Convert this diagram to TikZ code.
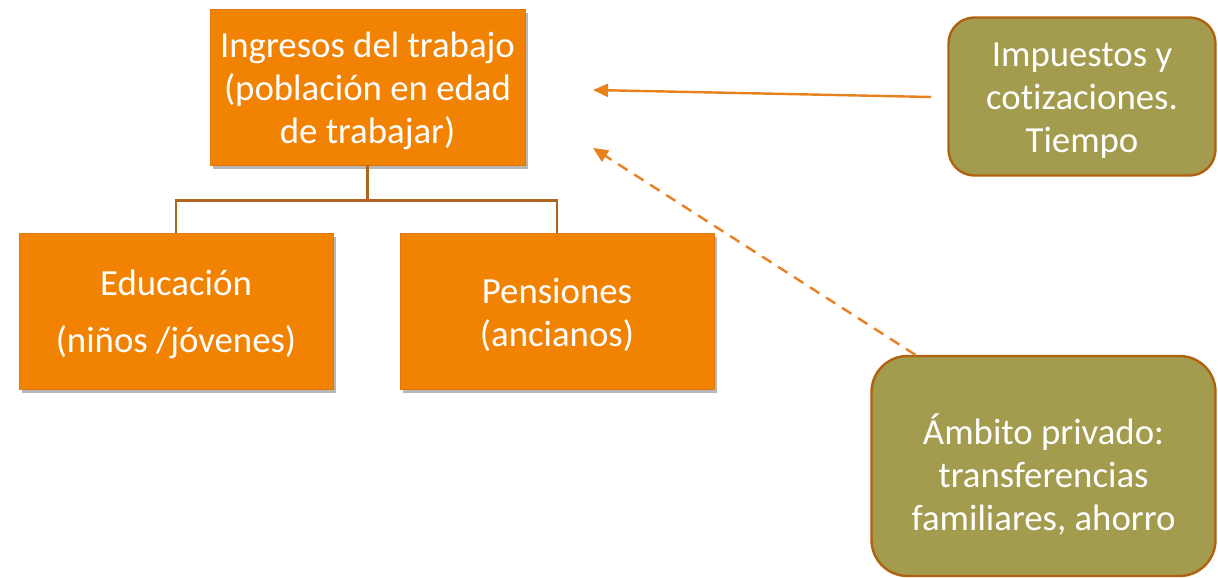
\documentclass[tikz,border=0pt]{standalone}
\usepackage{fontspec}
\setmainfont[Ligatures=NoCommon]{Carlito}
\usetikzlibrary{shadows,arrows.meta,calc}
\definecolor{boxor}{RGB}{242,130,2}
\definecolor{boxorb}{RGB}{226,120,10}
\definecolor{olive}{RGB}{163,155,78}
\definecolor{oliveb}{RGB}{176,98,16}
\definecolor{conn}{RGB}{176,100,30}
\definecolor{arrc}{RGB}{232,128,28}
\tikzset{
  obox/.style={draw=boxorb, line width=0.6pt, fill=boxor, inner sep=0pt,
    drop shadow={shadow xshift=3pt, shadow yshift=-4pt, opacity=0.4, fill=black!70}},
  gbox/.style={draw=oliveb, line width=2.4pt, fill=olive, inner sep=0pt},
  txt/.style={text=white, align=center, inner sep=0pt,
    font=\fontsize{36.8}{43}\selectfont},
  connline/.style={draw=conn, line width=2.6pt},
  arrline/.style={draw=arrc, line width=2.4pt, -{Triangle[length=15pt,width=13pt]}},
}
\begin{document}
\begin{tikzpicture}[x=1pt,y=-1pt]
\useasboundingbox (0,0) rectangle (1218,578);
\node[obox, minimum width=315pt, minimum height=156pt] (top) at (367.5,87) {};
\node[obox, minimum width=314pt, minimum height=156pt] (edu) at (176,311) {};
\node[obox, minimum width=314pt, minimum height=156pt] (pen) at (557,311) {};
\node[gbox, rounded corners=26pt, minimum width=267pt, minimum height=158pt] (imp) at (1082,96.5) {};
\node[gbox, rounded corners=36pt, minimum width=344pt, minimum height=220pt] (amb) at (1043.5,466) {};
\node[txt] (topt) at ($(top)+(0,4)$) {Ingresos del trabajo\\(población en edad\\de trabajar)};
\node[txt] (edut) at ($(edu)+(0,3)$) {Educación\\[14pt](niños /jóvenes)};
\node[txt] (pent) at ($(pen)+(0,4)$) {Pensiones\\(ancianos)};
\node[txt] (impt) at ($(imp)+(0,4)$) {Impuestos y\\cotizaciones.\\Tiempo};
\node[txt] (ambt) at ($(amb)+(0,8)$) {Ámbito privado:\\transferencias\\familiares, ahorro};
\draw[connline] (top.south) -- ++(0,35) coordinate (mid) -| (edu.north);
\draw[connline] (mid) -| (pen.north);
\coordinate (t1) at (593,90);
\coordinate (t2) at (593,148);
\coordinate (s1) at (931,97);
\coordinate (s2) at ($(amb.north west)+(45,0)$);
\draw[arrline] (s1) -- (t1);
\draw[arrline, dash pattern=on 11pt off 8pt] (s2) -- (t2);
\end{tikzpicture}
\end{document}
